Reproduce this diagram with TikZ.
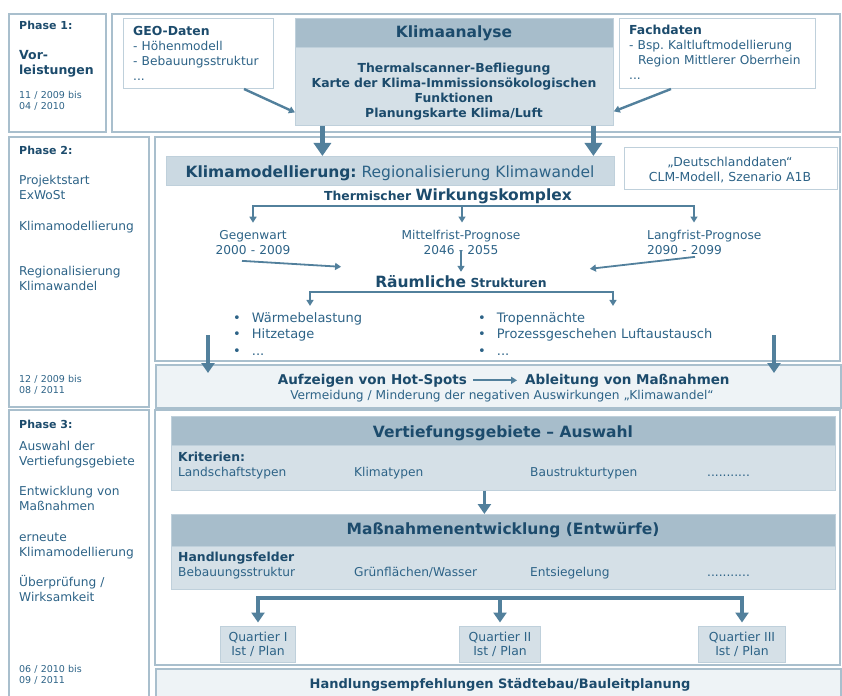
\documentclass[tikz,border=0pt]{standalone}
\usepackage{fontspec}
\setmainfont{DejaVu Sans}
\usetikzlibrary{arrows.meta,positioning}
\frenchspacing

\definecolor{txtdark}{HTML}{1C4B6C}
\definecolor{txtblue}{HTML}{2D6387}
\definecolor{headfill}{HTML}{A7BDCB}
\definecolor{bodyfill}{HTML}{D5E0E7}
\definecolor{barfill}{HTML}{CBD9E2}
\definecolor{palefill}{HTML}{EEF3F6}
\definecolor{framecol}{HTML}{A9BFCD}
\definecolor{boxline}{HTML}{BFD0DB}
\definecolor{arrowcol}{HTML}{52809C}

\tikzset{
  frame/.style={draw=framecol, line width=1.6pt},
  infobox/.style={draw=boxline, line width=1pt, fill=white, anchor=north west, inner sep=0pt},
  headbox/.style={draw=boxline, line width=0.8pt, fill=headfill, anchor=north west, inner sep=0pt},
  bodybox/.style={draw=boxline, line width=0.8pt, fill=bodyfill, anchor=north west, inner sep=0pt},
  txt/.style={inner sep=0pt, anchor=base west, text=txtblue, font=\fontsize{12.2}{15.5}\selectfont},
  boldtxt/.style={txt, text=txtdark, font=\bfseries\fontsize{12.4}{14.8}\selectfont},
  phasetxt/.style={txt, text=txtdark, font=\bfseries\fontsize{11}{13}\selectfont},
  datetxt/.style={txt, font=\fontsize{9.5}{11}\selectfont},
  titletxt/.style={txt, anchor=base, text=txtdark, font=\bfseries\fontsize{15.5}{18}\selectfont},
  quartier/.style={draw=boxline, line width=1pt, fill=bodyfill, text=txtblue, align=center,
    inner xsep=2pt, minimum height=36, font=\fontsize{12.4}{14}\selectfont},
  thinline/.style={draw=arrowcol, line width=1.8pt},
  thinarr/.style={thinline, -{Triangle[length=6pt,width=7pt]}},
  midarr/.style={draw=arrowcol, line width=3.5pt, -{Triangle[length=10pt,width=13pt]}},
  bigarr/.style={draw=arrowcol, line width=4.5pt, -{Triangle[length=13pt,width=17pt]}}
}

\begin{document}
\begin{tikzpicture}[x=1pt, y=-1pt]
\useasboundingbox (0,0) rectangle (842,695);

% frames of the three phases
\draw[frame] (9,14) rectangle (106,132);
\draw[frame] (112,14) rectangle (840,132);
\draw[frame] (9,137) rectangle (149,407);
\draw[frame] (155,137) rectangle (840,361);
\node[frame, fill=palefill, anchor=north west, inner sep=0pt, minimum width=685, minimum height=43] (hotband) at (155,364) {};
\draw[frame] (9,410) rectangle (149,698);
\draw[frame] (155,410) rectangle (840,665);
\node[frame, fill=palefill, anchor=north west, inner sep=0pt, minimum width=685, minimum height=30] (empfband) at (155,668) {};

% left column
\node[phasetxt] (ph1) at (19,30) {Phase 1:};
\node[txt, text=txtdark, text width=85, align=left, font=\bfseries\fontsize{12.5}{15}\selectfont] (ph1name) at (19,60) {Vor-\\leistungen};
\node[datetxt, text width=85, align=left] (ph1date) at (19,99) {11 / 2009 bis\\04 / 2010};

\node[phasetxt] (ph2) at (19,155) {Phase 2:};
\node[txt, text width=130, align=left] (ph2a) at (19,184) {Projektstart\\ExWoSt};
\node[txt] (ph2b) at (19,230) {Klimamodellierung};
\node[txt, text width=130, align=left] (ph2c) at (19,275) {Regionalisierung\\Klimawandel};
\node[datetxt, text width=130, align=left] (ph2date) at (19,382) {12 / 2009 bis\\08 / 2011};

\node[phasetxt] (ph3) at (19,428) {Phase 3:};
\node[txt, text width=130, align=left] (ph3a) at (19,450) {Auswahl der\\Vertiefungsgebiete};
\node[txt, text width=130, align=left] (ph3b) at (19,495) {Entwicklung von\\Maßnahmen};
\node[txt, text width=130, align=left] (ph3c) at (19,541) {erneute\\Klimamodellierung};
\node[txt, text width=130, align=left] (ph3d) at (19,586) {Überprüfung /\\Wirksamkeit};
\node[datetxt, text width=130, align=left] (ph3date) at (19,672) {06 / 2010 bis\\09 / 2011};

% phase 1
\node[infobox, minimum width=150, minimum height=70] (geo) at (123,18) {};
\node[boldtxt] (geotitle) at (133,36) {GEO-Daten};
\node[txt, text width=138, align=left, font=\fontsize{12.2}{15}\selectfont] (geolist) at (133,51) {- Höhenmodell\\- Bebauungsstruktur\\...};

\node[headbox, minimum width=318, minimum height=29] (klimahead) at (295,18) {};
\node[bodybox, minimum width=318, minimum height=78] (klima) at (295,47) {};
\node[titletxt] (klimatitle) at (454,38) {Klimaanalyse};
\node[boldtxt, anchor=base, text width=316, align=center, font=\bfseries\fontsize{12.4}{14.7}\selectfont] (klimatext) at (454,73) {Thermalscanner-Befliegung\\Karte der Klima-Immissionsökologischen\\Funktionen\\Planungskarte Klima/Luft};

\node[infobox, minimum width=196, minimum height=70] (fach) at (619,18) {};
\node[boldtxt] (fachtitle) at (629,35) {Fachdaten};
\node[txt, text width=182, align=left, font=\fontsize{12.2}{15}\selectfont] (fachlist) at (629,50) {- Bsp. Kaltluftmodellierung\\\hspace*{9pt}Region Mittlerer Oberrhein\\...};

\draw[thinarr, line width=2.4pt] ([xshift=-30pt]geo.south east) -- ([yshift=-26pt]klima.west);
\draw[thinarr, line width=2.4pt] ([xshift=-145pt]fach.south east) -- ([yshift=-25pt]klima.east);

% phase 2
\node[bodybox, fill=barfill, minimum width=448, minimum height=29] (modell) at (166,156) {};
\node[txt, anchor=base, font=\fontsize{15.5}{18}\selectfont] (modelltext) at (390,177) {\textcolor{txtdark}{\bfseries Klimamodellierung:} Regionalisierung Klimawandel};
\node[infobox, minimum width=213, minimum height=42] (dtl) at (624,147) {};
\node[txt, anchor=base, text width=210, align=center, font=\fontsize{12.4}{14}\selectfont] (dtltext) at (730,167) {„Deutschlanddaten“\\CLM-Modell, Szenario A1B};

\draw[bigarr] ([xshift=-132pt]klima.south) -- ([xshift=-132pt]klima.south |- modell.north);
\draw[bigarr] ([xshift=139pt]klima.south) -- ([xshift=139pt]klima.south |- modell.north);

\node[boldtxt, anchor=base] (wirk) at (448,200) {Thermischer {\fontsize{15.5}{18}\selectfont Wirkungskomplex}};
\coordinate (wkL) at (253,206);
\coordinate (wkM) at (462,206);
\coordinate (wkR) at (694,206);
\node[txt, anchor=base, text width=100, align=center] (gegen) at (253,239) {Gegenwart\\2000 - 2009};
\node[txt, anchor=base, text width=140, align=center] (mittel) at (461,239) {Mittelfrist-Prognose\\2046 - 2055};
\node[txt, text width=130, align=left] (lang) at (647,239) {Langfrist-Prognose\\2090 - 2099};
\draw[thinarr] (wkM) -| ([yshift=7pt]gegen.north);
\draw[thinarr] (wkM) -| ([yshift=7pt]wkR |- lang.north);
\draw[thinarr] (wkM) -- ([yshift=7pt]wkM |- mittel.north);

\node[boldtxt, anchor=base] (raum) at (461,287) {{\fontsize{15.5}{18}\selectfont Räumliche} Strukturen};
\draw[thinarr] ([xshift=-11pt,yshift=-6pt]gegen.south) -- ([xshift=-34pt,yshift=8pt]raum.north west);
\draw[thinarr] ([yshift=4pt]mittel.south) -- ([yshift=3pt]mittel.south |- raum.north);
\draw[thinarr] ([xshift=48pt,yshift=-2pt]lang.south west) -- ([xshift=43pt,yshift=6pt]raum.north east);

\coordinate (rsL) at (310,292);
\coordinate (rsM) at (461,292);
\coordinate (rsR) at (613,292);
\node[txt, text width=160, align=left, font=\fontsize{13}{16.5}\selectfont] (listL) at (233,322) {•\hspace{11pt}Wärmebelastung\\•\hspace{11pt}Hitzetage\\•\hspace{11pt}...};
\node[txt, text width=280, align=left, font=\fontsize{13}{16.5}\selectfont] (listR) at (478,322) {•\hspace{11pt}Tropennächte\\•\hspace{11pt}Prozessgeschehen Luftaustausch\\•\hspace{11pt}...};
\draw[thinarr] (rsM) -| ([yshift=6pt]rsL |- listL.north);
\draw[thinarr] (rsM) -| ([yshift=6pt]rsR |- listR.north);

\coordinate (dnL) at (208,335);
\coordinate (dnR) at (774,335);
\draw[midarr] (dnL) -- ([yshift=-9pt]dnL |- hotband.north);
\draw[midarr] (dnR) -- ([yshift=-9pt]dnR |- hotband.north);

\node[boldtxt, anchor=base east, font=\bfseries\fontsize{13.5}{16}\selectfont] (hot) at (467,384) {Aufzeigen von Hot-Spots};
\node[boldtxt, anchor=base west, font=\bfseries\fontsize{13.5}{16}\selectfont] (abl) at (525,384) {Ableitung von Maßnahmen};
\draw[thinarr, shorten <=6pt, shorten >=8pt] (hot) -- (abl);
\node[txt, anchor=base] (verm) at (502,399) {Vermeidung / Minderung der negativen Auswirkungen „Klimawandel“};

% phase 3
\node[headbox, minimum width=664, minimum height=29] (vhead) at (171,416) {};
\node[bodybox, minimum width=664, minimum height=45] (vbody) at (171,445) {};
\node[titletxt] (vtitle) at (503,437) {Vertiefungsgebiete – Auswahl};
\node[boldtxt] (krit) at (178,461) {Kriterien:};
\node[txt] (land) at (178,476) {Landschaftstypen};
\node[txt] (klimatyp) at (354,476) {Klimatypen};
\node[txt] (baustr) at (530,476) {Baustrukturtypen};
\node[txt] (kritmore) at (707,476) {...........};

\node[headbox, minimum width=664, minimum height=32] (mhead) at (171,514) {};
\node[bodybox, minimum width=664, minimum height=43] (mbody) at (171,546) {};
\node[titletxt] (mtitle) at (503,534) {Maßnahmenentwicklung (Entwürfe)};
\node[boldtxt] (hand) at (178,561) {Handlungsfelder};
\node[txt] (bebau) at (178,576) {Bebauungsstruktur};
\node[txt] (gruen) at (354,576) {Grünflächen/Wasser};
\node[txt] (entsieg) at (530,576) {Entsiegelung};
\node[txt] (handmore) at (707,576) {...........};

\draw[midarr, line width=3pt] ([xshift=-19pt]vbody.south) -- ([xshift=-19pt]mhead.north);

\node[quartier, minimum width=75] (q1) at (258,644) {Quartier I\\Ist / Plan};
\node[quartier, minimum width=81] (q2) at (500,644) {Quartier II\\Ist / Plan};
\node[quartier, minimum width=87] (q3) at (742,644) {Quartier III\\Ist / Plan};
\coordinate (qM) at (500,598);
\draw[midarr, shorten >=3pt] (qM) -| (q1);
\draw[midarr, shorten >=3pt] (qM) -| (q3);
\draw[midarr, shorten >=3pt] (qM) -- (q2);

\node[boldtxt, anchor=base, font=\bfseries\fontsize{13}{15}\selectfont] (empf) at (500,688) {Handlungsempfehlungen Städtebau/Bauleitplanung};
\end{tikzpicture}
\end{document}
